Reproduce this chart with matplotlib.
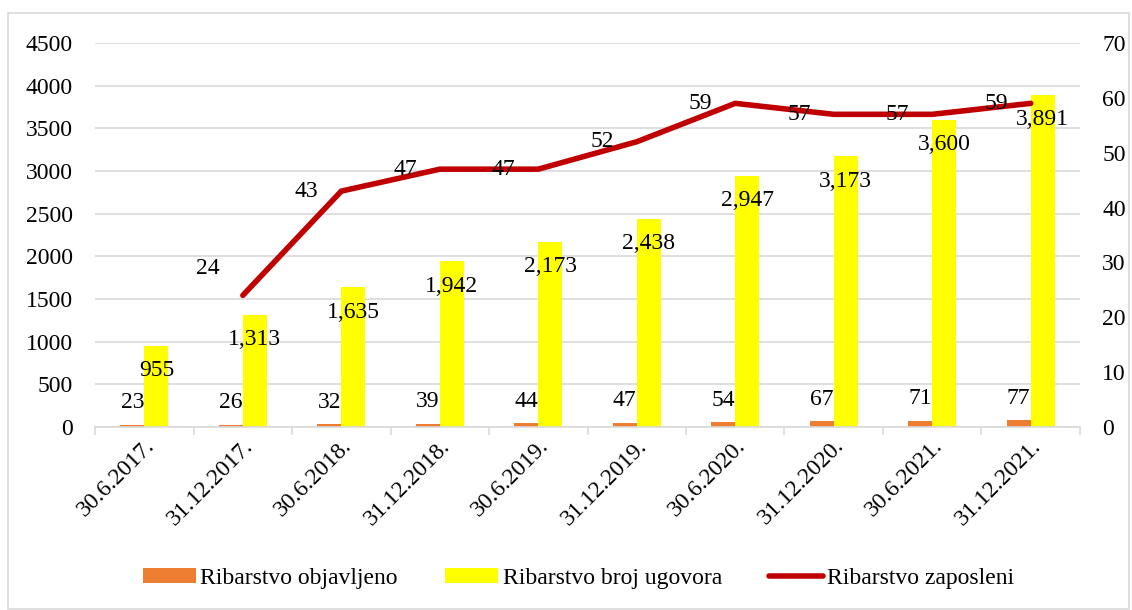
import numpy as np
import matplotlib.pyplot as plt
from matplotlib.patches import Rectangle

plt.rcParams['font.family'] = ['Liberation Serif', 'DejaVu Serif']

# podaci
periodi = ['30.6.2017.', '31.12.2017.', '30.6.2018.', '31.12.2018.', '30.6.2019.',
           '31.12.2019.', '30.6.2020.', '31.12.2020.', '30.6.2021.', '31.12.2021.']
objavljeno = [23, 26, 32, 39, 44, 47, 54, 67, 71, 77]
broj_ugovora = [955, 1313, 1635, 1942, 2173, 2438, 2947, 3173, 3600, 3891]
zaposleni = [np.nan, 24, 43, 47, 47, 52, 59, 57, 57, 59]

x = np.arange(len(periodi))
w = 0.245
fs = 17

fig = plt.figure(figsize=(11.32, 6.10), dpi=100)
ax = fig.add_axes([0.084, 0.30, 0.870, 0.6295])
ax2 = ax.twinx()

ax.bar(x - w / 2, objavljeno, w, color='#ED7D31', label='Ribarstvo objavljeno', zorder=2)
ax.bar(x + w / 2, broj_ugovora, w, color='#FFFF00', label='Ribarstvo broj ugovora', zorder=2)
ax2.plot(x, zaposleni, color='#C00000', lw=4, label='Ribarstvo zaposleni',
         solid_capstyle='round', zorder=3)

# oznake vrijednosti
for i in range(len(x)):
    ax.annotate(str(objavljeno[i]), (x[i] - w / 2, objavljeno[i]), xytext=(0, 16),
                textcoords='offset points', ha='center', va='center', fontsize=fs)
    ax.annotate(f'{broj_ugovora[i]:,}', (x[i] + w / 2, broj_ugovora[i]), xytext=(0, -18),
                textcoords='offset points', ha='center', va='center', fontsize=fs)
    if not np.isnan(zaposleni[i]):
        dy = 19 if i == 1 else 0
        ax2.annotate(str(int(zaposleni[i])), (x[i], zaposleni[i]), xytext=(-25, dy),
                     textcoords='offset points', ha='center', va='center', fontsize=fs)

ax.set_xlim(-0.5, len(x) - 0.5)
ax.set_ylim(0, 4500)
ax.set_yticks(np.arange(0, 4501, 500))
ax2.set_ylim(0, 70)
ax2.set_yticks(np.arange(0, 71, 10))

ax.yaxis.grid(True, color='#d9d9d9', lw=1.2, zorder=0)
ax.set_axisbelow(True)

for a in (ax, ax2):
    for s in a.spines.values():
        s.set_visible(False)
ax.spines['bottom'].set_visible(True)
ax.spines['bottom'].set_color('#d9d9d9')
ax.spines['bottom'].set_linewidth(1.2)

ax.set_xticks(x)
ax.set_xticklabels(periodi, rotation=45, ha='right', rotation_mode='anchor', fontsize=fs)
ax.tick_params(axis='x', length=0, pad=6)
ax.set_xticks(np.arange(-0.5, len(x), 1), minor=True)
ax.tick_params(axis='x', which='minor', length=6, color='#d9d9d9', width=1.2)
ax.tick_params(axis='y', length=0, labelsize=fs, pad=16)
ax2.tick_params(axis='y', length=0, labelsize=fs, pad=16)

h1, l1 = ax.get_legend_handles_labels()
h2, l2 = ax2.get_legend_handles_labels()
fig.legend(h1 + h2, l1 + l2, loc='center', bbox_to_anchor=(0.511, 0.052), ncol=3,
           frameon=False, fontsize=fs, handlelength=2.25, handleheight=0.55,
           columnspacing=2.0, handletextpad=0.2)

# okvir
fig.patches.append(Rectangle((0.007, 0.002), 0.99, 0.976, transform=fig.transFigure,
                             fill=False, edgecolor='#d9d9d9', lw=1.2))

fig.savefig('out.png', dpi=100)
